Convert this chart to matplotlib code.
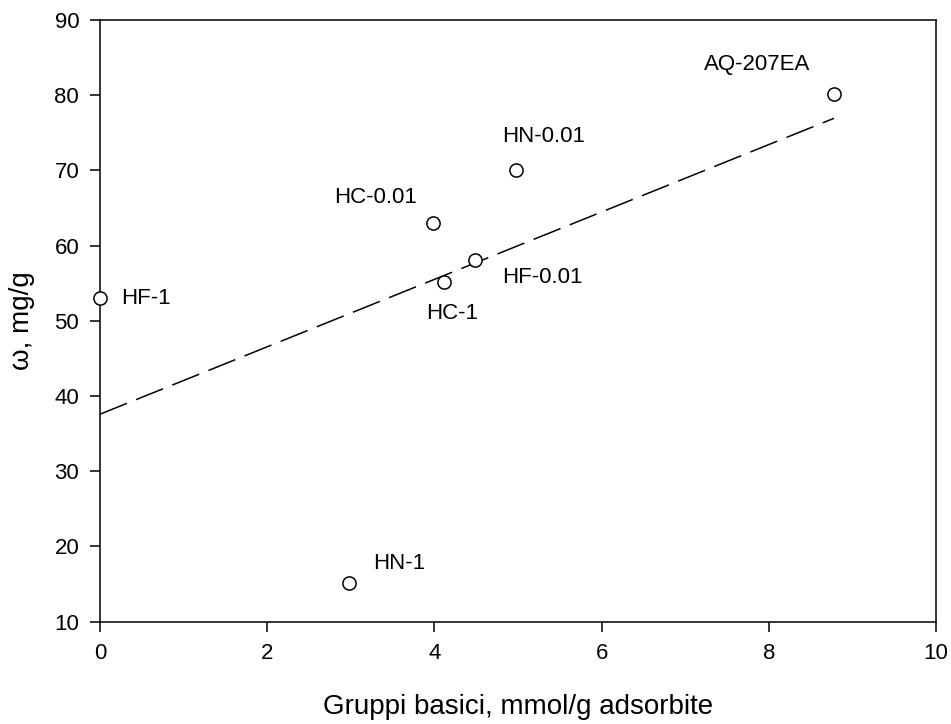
import numpy as np
import matplotlib
matplotlib.use("Agg")
import matplotlib.pyplot as plt

plt.rcParams['font.family'] = ['Liberation Sans', 'DejaVu Sans']

# dati
campioni = ["HF-1", "HN-1", "HC-0.01", "HC-1", "HF-0.01", "HN-0.01", "AQ-207EA"]
gruppi_basici = [0.0, 2.98, 3.98, 4.12, 4.48, 4.98, 8.78]
omega = [53.0, 15.1, 63.0, 55.1, 58.1, 70.1, 80.1]

# spostamento etichette (pixel)
offset = {"HF-1": (21, 0), "HN-1": (24, 20), "HC-0.01": (-99, 26),
          "HC-1": (-18, -31), "HF-0.01": (28, -18), "HN-0.01": (-14, 33),
          "AQ-207EA": (-130, 30)}

fig = plt.figure(figsize=(9.51, 7.24), dpi=100)
ax = fig.add_axes([100/951, 1-621.7/724, 836/951, 601.7/724])

# retta di regressione
coef = np.polyfit(gruppi_basici, omega, 1)
xr = np.array([0, max(gruppi_basici)])
ax.plot(xr, np.polyval(coef, xr), color='black', lw=1.1, linestyle=(0, (19, 6.5)))

ax.plot(gruppi_basici, omega, 'o', mfc='white', mec='black', ms=9.5, mew=1.1,
        clip_on=False, zorder=3)

for nome, xv, yv in zip(campioni, gruppi_basici, omega):
    dx, dy = offset[nome]
    ax.annotate(nome, (xv, yv), xytext=(dx, dy), textcoords='offset pixels',
                ha='left', va='center', fontsize=16)

ax.set_xlim(0, 10)
ax.set_ylim(10, 90)
ax.set_xticks(np.arange(0, 11, 2))
ax.set_yticks(np.arange(10, 91, 10))
ax.tick_params(direction='out', length=7, width=1.1, labelsize=16, pad=8,
               top=False, right=False)
for s in ax.spines.values():
    s.set_linewidth(1.1)

ax.set_xlabel("Gruppi basici, mmol/g adsorbite", fontsize=20, labelpad=22)
ax.set_ylabel("ω, mg/g", fontsize=20, labelpad=14)

fig.savefig("out.png", dpi=100)
